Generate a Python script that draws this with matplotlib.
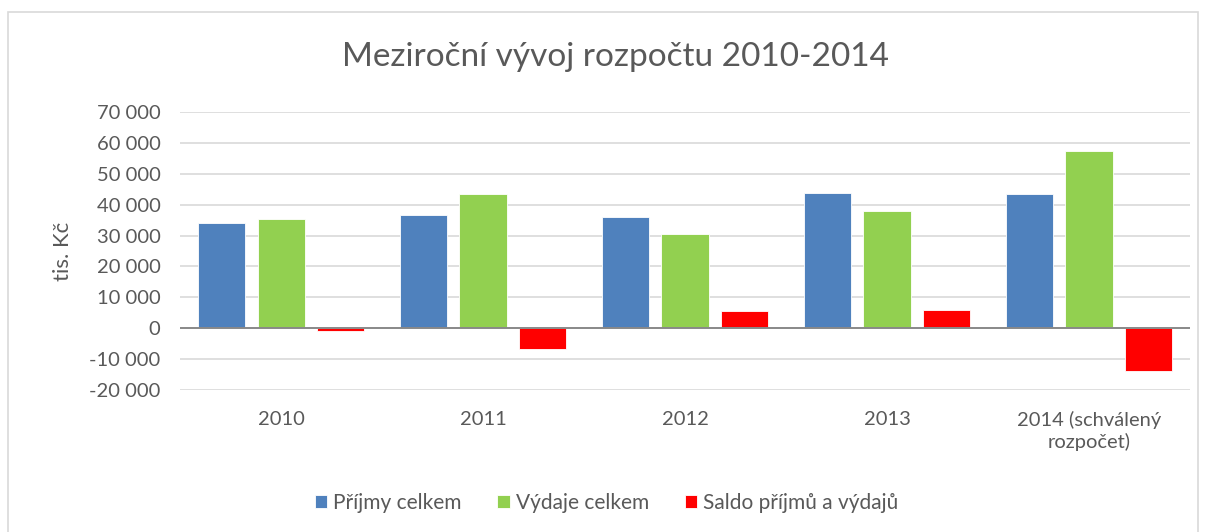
import matplotlib
matplotlib.use("Agg")
import matplotlib.pyplot as plt
from matplotlib.ticker import FuncFormatter
from matplotlib.patches import Rectangle
import numpy as np

categories = ["2010", "2011", "2012", "2013", "2014 (schválený\nrozpočet)"]
prijmy = [34200, 36800, 36000, 43800, 43400]
vydaje = [35200, 43500, 30500, 37900, 57400]
saldo = [-1000, -6700, 5500, 5900, -14000]
series_names = ["Příjmy celkem", "Výdaje celkem", "Saldo příjmů a výdajů"]
colors = ["#4F81BD", "#92D050", "#FF0000"]
text_color = "#595959"

plt.rcParams["font.family"] = ["Lato", "DejaVu Sans"]

fig = plt.figure(figsize=(12.06, 5.32), dpi=100)
ax = fig.add_axes([0.1493, 0.2669, 0.8374, 0.5226])

x = np.arange(len(categories))
step = 0.295
width = 0.233
for k, (vals, name, col) in enumerate(zip([prijmy, vydaje, saldo], series_names, colors)):
    ax.bar(x + (k - 1) * step, vals, width, color=col, label=name,
           edgecolor="white", linewidth=0.6, zorder=3)

ax.set_xlim(-0.5, len(categories) - 0.5)
ax.set_ylim(-20000, 70000)
ax.set_yticks(range(-20000, 70001, 10000))
ax.yaxis.set_major_formatter(FuncFormatter(lambda v, p: f"{int(v):,}".replace(",", " ")))
ax.set_xticks(x)
ax.set_xticklabels(categories, linespacing=1.3)

ax.grid(axis="y", color="#D9D9D9", linewidth=1.2, zorder=0)
ax.axhline(0, color="#898989", linewidth=1.4, zorder=4)
for s in ax.spines.values():
    s.set_visible(False)
ax.tick_params(axis="both", length=0, labelsize=14.5, colors=text_color)
ax.tick_params(axis="x", pad=15)
ax.tick_params(axis="y", pad=14)
ax.set_ylabel("tis. Kč", fontsize=16, color=text_color, labelpad=12)

fig.text(0.51, 0.893, "Meziroční vývoj rozpočtu 2010-2014", ha="center", va="center",
         fontsize=24, color=text_color)

fig.legend(loc="center", bbox_to_anchor=(0.503, 0.055), ncol=3, frameon=False,
           fontsize=15, handlelength=0.6, handleheight=0.6, handletextpad=0.3,
           columnspacing=1.7, labelcolor=text_color)

fig.patches.append(Rectangle((8 / 1206, -0.01), 1190 / 1206, 1 - 12 / 532 + 0.01,
                             transform=fig.transFigure, fill=False,
                             edgecolor="#D9D9D9", linewidth=1.2))

fig.savefig("out.png", dpi=100)
